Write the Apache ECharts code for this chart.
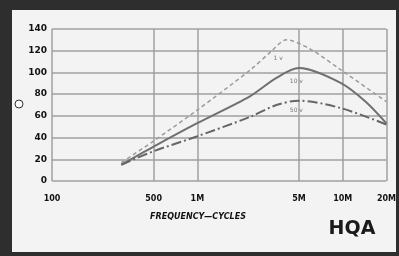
<!DOCTYPE html>
<html>
<head>
<meta charset="utf-8">
<script src="https://cdn.jsdelivr.net/npm/echarts@6/dist/echarts.min.js"></script>
<style>
  html, body { margin: 0; padding: 0; background: #2e2e2e; }
  #chart { width: 399px; height: 256px; }
</style>
</head>
<body>
<div id="chart"></div>
<script>
// frequency in cycles
const freqDashed = [3.0e5, 4.9e5, 9.9e5, 2.3e6, 3.2e6, 4.1e6, 5.9e6, 9.8e6, 2.0e7];
const valDashed = [17, 36, 65, 102, 119, 130, 122, 102, 73];
const freqSolid = [3.0e5, 4.9e5, 9.9e5, 2.3e6, 3.5e6, 5.0e6, 9.8e6, 1.44e7, 2.0e7];
const valSolid = [15, 31, 53, 78, 95, 104, 90, 73, 53];
const freqDashDot = [3.0e5, 4.9e5, 9.9e5, 2.3e6, 3.5e6, 5.0e6, 9.8e6, 2.0e7];
const valDashDot = [15, 27, 41, 59, 70, 74, 67, 52];

const xTicks = [1e5, 5e5, 1e6, 5e6, 1e7, 2e7];
const xTickLabels = ['100', '500', '1M', '5M', '10M', '20M'];
const curveNames = ['1 v', '10 v', '50 v'];

function pairs(xs, ys) {
    return xs.map((x, i) => [x, ys[i]]);
}

const chart = echarts.init(document.getElementById('chart'));

// small label sitting under each peak
function curveLabel(text, coord) {
    return {
        symbol: 'circle',
        symbolSize: 1,
        itemStyle: { color: 'rgba(0,0,0,0)' },
        label: { show: true, position: 'inside', formatter: '{b}', color: '#777', fontSize: 6, fontFamily: 'DejaVu Sans' },
        data: [{ name: text, coord: coord }]
    };
}

const option = {
    backgroundColor: '#2e2e2e',
    animation: false,
    grid: { left: 52, right: 11, top: 29, bottom: 75 },
    xAxis: {
        type: 'log',
        logBase: 10,
        min: 1e5,
        max: 2e7,
        axisLine: { show: false },
        axisTick: { show: false, customValues: xTicks },
        axisLabel: {
            customValues: xTicks,
            margin: 14,
            fontSize: 8,
            fontWeight: 'bold',
            color: '#111',
            fontFamily: 'DejaVu Sans',
            formatter: function (v) {
                const i = xTicks.findIndex(t => Math.abs(t - v) / t < 1e-6);
                return i >= 0 ? xTickLabels[i] : '';
            }
        },
        splitLine: { show: true, lineStyle: { color: '#a0a0a0', width: 1.5 } }
    },
    yAxis: {
        type: 'value',
        min: 0,
        max: 140,
        interval: 20,
        axisLine: { show: false },
        axisTick: { show: false },
        axisLabel: { margin: 5, fontSize: 9, fontWeight: 'bold', color: '#111', fontFamily: 'DejaVu Sans' },
        splitLine: { show: true, lineStyle: { color: '#a0a0a0', width: 1.5 } }
    },
    graphic: [
        { type: 'rect', shape: { x: 12, y: 10, width: 384, height: 242 }, style: { fill: '#f3f3f3' }, z: -10 },
        { type: 'circle', shape: { cx: 19, cy: 104, r: 4 }, style: { fill: '#fafafa', stroke: '#333', lineWidth: 1 }, z: 10 },
        // axis title sits left of the grid centre in the scan
        { type: 'text', x: 198, y: 217, style: { text: 'FREQUENCY\u2014CYCLES', fontSize: 8, fontStyle: 'italic', fontWeight: 'bold', fill: '#111', fontFamily: 'DejaVu Sans', textAlign: 'center', textVerticalAlign: 'middle' }, z: 10 },
        { type: 'text', x: 352, y: 229, style: { text: 'HQA', fontSize: 19, fontWeight: 'bold', fill: '#1a1a1a', fontFamily: 'DejaVu Sans', textAlign: 'center', textVerticalAlign: 'middle' }, z: 10 }
    ],
    series: [
        {
            name: curveNames[0],
            type: 'line',
            smooth: 0.3,
            symbol: 'none',
            data: pairs(freqDashed, valDashed),
            lineStyle: { color: '#9a9a9a', width: 1.5, type: [4, 3] },
            markPoint: curveLabel(curveNames[0], [3.6e6, 113])
        },
        {
            name: curveNames[1],
            type: 'line',
            smooth: 0.3,
            symbol: 'none',
            data: pairs(freqSolid, valSolid),
            lineStyle: { color: '#707070', width: 2 },
            markPoint: curveLabel(curveNames[1], [4.8e6, 92])
        },
        {
            name: curveNames[2],
            type: 'line',
            smooth: 0.3,
            symbol: 'none',
            data: pairs(freqDashDot, valDashDot),
            lineStyle: { color: '#666666', width: 2, type: [10, 3, 2, 3] },
            markPoint: curveLabel(curveNames[2], [4.8e6, 65])
        }
    ]
};

chart.setOption(option);
</script>
</body>
</html>
